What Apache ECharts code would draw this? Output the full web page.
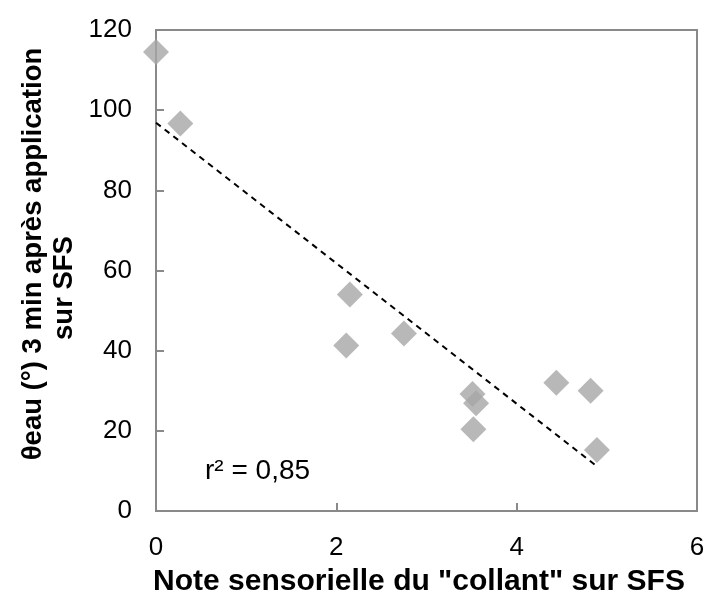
<!DOCTYPE html>
<html>
<head>
<meta charset="utf-8">
<script src="https://cdn.jsdelivr.net/npm/echarts@6/dist/echarts.min.js"></script>
<style>
  html, body { margin: 0; padding: 0; background: #fff; }
  #chart { width: 710px; height: 599px; }
</style>
</head>
<body>
<div id="chart"></div>
<script>
// Sensory "tacky" score vs water contact angle 3 min after application on SFS
const noteCollant = [0, 0.27, 2.15, 2.11, 2.75, 3.51, 3.55, 3.52, 4.44, 4.82, 4.89];
const thetaEau    = [114.5, 96.7, 54.0, 41.3, 44.3, 29.2, 26.9, 20.4, 32.0, 30.0, 15.2];

const xTicks = [0, 2, 4, 6];
const yTicks = [0, 20, 40, 60, 80, 100, 120];

const xTitle = 'Note sensorielle du "collant" sur SFS';
const yTitleLines = ['θeau (°) 3 min après application', 'sur SFS'];
const r2Label = 'r² = 0,85';

// least-squares linear trend through the points
function linearFit(xs, ys) {
  const n = xs.length;
  const mx = xs.reduce((a, b) => a + b, 0) / n;
  const my = ys.reduce((a, b) => a + b, 0) / n;
  let sxy = 0, sxx = 0;
  for (let i = 0; i < n; i++) {
    sxy += (xs[i] - mx) * (ys[i] - my);
    sxx += (xs[i] - mx) * (xs[i] - mx);
  }
  const slope = sxy / sxx;
  return { slope, intercept: my - slope * mx };
}
const fit = linearFit(noteCollant, thetaEau);
const xMin = Math.min(...noteCollant), xMax = Math.max(...noteCollant);
const trend = [[xMin, fit.intercept + fit.slope * xMin], [xMax, fit.intercept + fit.slope * xMax]];

const points = noteCollant.map((x, i) => [x, thetaEau[i]]);

const FONT = '"Liberation Sans", Arial, sans-serif';
const axisGray = '#898989';

const chart = echarts.init(document.getElementById('chart'), null, { renderer: 'canvas' });
chart.setOption({
  animation: false,
  backgroundColor: '#fff',
  grid: { left: 156, top: 30, width: 541, height: 481, show: true, borderColor: axisGray, borderWidth: 2 },
  xAxis: {
    type: 'value', min: xTicks[0], max: xTicks[xTicks.length - 1], interval: 2,
    axisLine: { show: true, lineStyle: { color: axisGray, width: 2 } },
    axisTick: { show: true, inside: true, length: 8, lineStyle: { color: axisGray, width: 2 } },
    splitLine: { show: false },
    axisLabel: { color: '#000', fontFamily: FONT, fontSize: 26, margin: 24 }
  },
  yAxis: {
    type: 'value', min: yTicks[0], max: yTicks[yTicks.length - 1], interval: 20,
    axisLine: { show: true, lineStyle: { color: axisGray, width: 2 } },
    axisTick: { show: true, inside: true, length: 8, lineStyle: { color: axisGray, width: 2 } },
    splitLine: { show: false },
    axisLabel: { color: '#000', fontFamily: FONT, fontSize: 26, margin: 24 }
  },
  series: [
    {
      type: 'line', data: trend, symbol: 'none', silent: true, z: 3,
      lineStyle: { color: '#000', width: 2, type: [6, 5] }
    },
    {
      type: 'scatter', data: points, symbol: 'diamond', symbolSize: 26, z: 2,
      itemStyle: { color: '#a6a6a6' }
    }
  ],
  graphic: [
    { type: 'text', x: 205, y: 471, style: { text: r2Label, font: '28px ' + FONT, fill: '#000', verticalAlign: 'middle' } },
    { type: 'text', x: 419, y: 582, style: { text: xTitle, font: 'bold 30px ' + FONT, fill: '#000', align: 'center', verticalAlign: 'middle' } },
    { type: 'text', x: 33, y: 254, rotation: Math.PI / 2, style: { text: yTitleLines[0], font: 'bold 27.5px ' + FONT, fill: '#000', align: 'center', verticalAlign: 'middle' } },
    { type: 'text', x: 64, y: 288, rotation: Math.PI / 2, style: { text: yTitleLines[1], font: 'bold 27.5px ' + FONT, fill: '#000', align: 'center', verticalAlign: 'middle' } }
  ]
});
</script>
</body>
</html>
